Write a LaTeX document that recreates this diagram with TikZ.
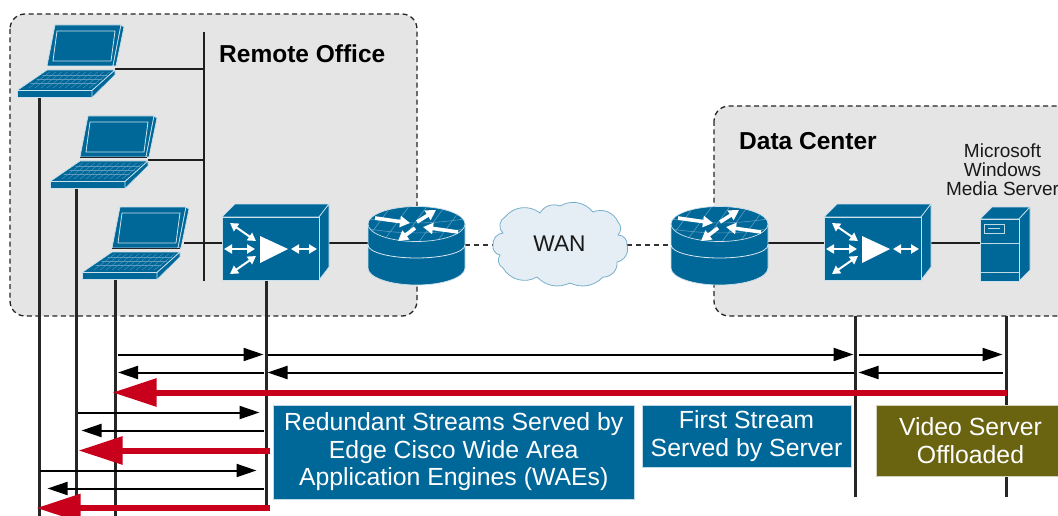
\documentclass[tikz,border=0pt]{standalone}
\usepackage{fontspec}
\setmainfont{Liberation Sans}
\usetikzlibrary{arrows.meta}
\definecolor{ciscoblue}{RGB}{0,103,153}
\definecolor{gridblue}{RGB}{90,155,190}
\definecolor{regiongray}{RGB}{229,229,229}
\definecolor{cloudfill}{RGB}{229,238,244}
\definecolor{cloudline}{RGB}{120,175,205}
\definecolor{olivebox}{RGB}{106,100,16}
\definecolor{redarrow}{RGB}{200,0,28}
\newcommand\lowertext[1]{\raisebox{-1.5pt}{#1}}
\pgfdeclarelayer{regionlayer}
\pgfdeclarelayer{wirelayer}
\pgfsetlayers{regionlayer,wirelayer,main}
\tikzset{
  x=1pt,y=-1pt,
  region/.style={draw=black!85,fill=regiongray,dash pattern=on 5pt off 3.5pt,line width=1.3pt,rounded corners=15pt},
  wire/.style={draw=black!88,line width=2pt},
  drop/.style={draw=black!85,line width=2.3pt},
  dashwire/.style={draw=black!80,line width=2pt,dash pattern=on 5pt off 4pt},
  flow/.style={draw=black,line width=2pt,-{Triangle[length=20pt,width=13pt]}},
  redflow/.style={draw=redarrow,line width=6pt,-{Triangle[length=44pt,width=27pt]}},
  icon/.style={fill=ciscoblue,draw=white!80!ciscoblue,line width=0.7pt,line join=round},
  whitearrow/.style={draw=white,line width=2pt,{Triangle[length=8pt,width=9pt]}-{Triangle[length=8pt,width=9pt]}},
  rarrow/.style={draw=white,line width=3.6pt,-{Triangle[length=10pt,width=11pt]}},
  caption/.style={text=white,font=\fontsize{24.8}{27.5}\selectfont,align=center,inner sep=0pt,draw=white!75!ciscoblue,line width=0.5pt,fill=ciscoblue},
  title/.style={font=\fontsize{24.5}{28}\selectfont\bfseries,inner sep=0pt,anchor=west,text=black},
  laptop/.pic={
    \path[icon] (38,0)--(104,0)--(96,41)--(30,41)--cycle;
    \path[icon] (104,0)--(107,2)--(99,41)--(96,41)--cycle;
    \draw[white!80!ciscoblue,line width=0.8pt] (40,6)--(98,6)--(94,36)--(36,36)--cycle;
    \path[icon] (30,45)--(98,45)--(75,65.5)--(0,65.5)--cycle;
    \path[icon] (0,65.5)--(75,65.5)--(75,72.5)--(0,72.5)--cycle;
    \path[icon] (98,45)--(98,50)--(75,72.5)--(75,65.5)--cycle;
    \begin{scope}
      \clip (31,47)--(95,47)--(73,63)--(7,63)--cycle;
      \foreach \yy in {50,54,58} \draw[gridblue,line width=0.35pt] (0,\yy)--(100,\yy);
      \foreach \xx in {0,6,...,96} \draw[gridblue,line width=0.35pt] (\xx,63)--(\xx+22,46);
    \end{scope}
  },
  wae/.pic={
    \path[icon] (0,13)--(13,0)--(107,0)--(97,13)--cycle;
    \path[icon] (97,13)--(107,0)--(107,63)--(97,76)--cycle;
    \path[icon] (0,13)--(97,13)--(97,76)--(0,76)--cycle;
    \fill[white] (38,32)--(66,45)--(38,59)--cycle;
    \draw[whitearrow] (2,45)--(33,45);
    \draw[whitearrow] (8,19)--(34,37);
    \draw[whitearrow] (8,70)--(34,52);
    \draw[whitearrow] (69,45)--(95,45);
  },
  routerpic/.pic={
    \path[icon] (0,17)--(0,61) arc[start angle=180,end angle=0,x radius=48.5,y radius=17]--(97,17)--cycle;
    \draw[white!85!ciscoblue,line width=0.8pt] (0,38) arc[start angle=180,end angle=0,x radius=48.5,y radius=13];
    \path[icon] (48.5,17) ellipse[x radius=48.5,y radius=17.5];
    \begin{scope}
      \clip (48.5,17) ellipse[x radius=48,y radius=17];
      \foreach \xx in {-40,-22,...,130} \draw[gridblue,line width=0.6pt] (\xx,36)--(\xx+28,-2);
      \draw[gridblue,line width=0.6pt] (0,12) to[bend right=8] (97,12);
      \draw[gridblue,line width=0.6pt] (0,22) to[bend right=8] (97,22);
    \end{scope}
    \draw[rarrow] (7,11)--(42,16);
    \draw[rarrow] (49,15)--(68,3);
    \draw[rarrow] (90,25)--(55,20);
    \draw[rarrow] (47,21)--(30,34);
  },
  serverpic/.pic={
    \path[icon] (0,12)--(12,0)--(50,0)--(39,12)--cycle;
    \path[icon] (39,12)--(50,0)--(50,63)--(39,74)--cycle;
    \path[icon] (0,12)--(39,12)--(39,74)--(0,74)--cycle;
    \draw[white!75!ciscoblue,line width=0.7pt] (4,17) rectangle (24,26);
    \draw[white!75!ciscoblue,line width=0.5pt] (8,21.5)--(20,21.5);
    \draw[white!75!ciscoblue,line width=0.7pt] (0,36)--(39,36) (0,65)--(39,65);
  }
}
\begin{document}
\begin{tikzpicture}
\useasboundingbox (0,0) rectangle (1058,516);
\clip (0,0) rectangle (1058,516);
% regions
\begin{pgfonlayer}{regionlayer}
  \draw[region] (10,14) rectangle (417,316);
  \draw[region] (714,106) rectangle (1075,316);
\end{pgfonlayer}
\node[title] (remote) at (219,53.5) {Remote Office};
\node[title] (dc) at (739,141.5) {Data Center};
\node[inner sep=0pt,align=center,font=\fontsize{19}{19}\selectfont,text=black!90] (wms) at (1002.5,170) {Microsoft\\Windows\\Media Server};
% icons
\pic (lap1) at (17,25) {laptop};
\pic (lap2) at (50,116) {laptop};
\pic (lap3) at (82,207) {laptop};
\draw[black!85,line width=1pt] (80,157.5)--(147,157.5) (112,248.5)--(180,248.5);
\pic (wae1) at (222,204) {wae};
\pic (wae2) at (824,204) {wae};
\pic (rt1) at (368,207) {routerpic};
\pic (rt2) at (671,207) {routerpic};
\pic (srv) at (980,207) {serverpic};
% cloud
\path[fill=cloudfill,draw=cloudline,line width=0.8pt]
  (493,245) to[bend left=45] (503,233) to[bend left=60] (505,217) to[bend left=45] (540,213)
  to[bend left=40] (560,206) to[bend left=40] (593,212) to[bend left=45] (618,222)
  to[bend left=45] (618,235) to[bend left=50] (627,245) to[bend left=50] (617,262)
  to[bend left=50] (603,277) to[bend left=35] (570,283) to[bend left=35] (537,277)
  to[bend left=45] (503,268) to[bend left=50] (500,255) to[bend left=45] (493,245);
\node[inner sep=0pt,font=\fontsize{22.7}{26}\selectfont,text=black!90] (wan) at (559.5,244) {WAN};
% anchor coordinates
\coordinate (bt) at (203.5,32); \coordinate (bb) at (203.5,281);
\coordinate (b1) at (203.5,69); \coordinate (b2) at (203.5,160);
\coordinate (l1r) at (115,69); \coordinate (l2r) at (148,160); \coordinate (l3r) at (184,243);
\coordinate (w1l) at (222,243); \coordinate (w1r) at (329,243);
\coordinate (r1l) at (368,243); \coordinate (r1r) at (465,245);
\coordinate (cl) at (493,245); \coordinate (cr) at (627,245);
\coordinate (r2l) at (671,245); \coordinate (r2r) at (768,243);
\coordinate (w2l) at (824,243); \coordinate (w2r) at (930,243);
\coordinate (sl) at (980,243);
% lifelines
\coordinate (t1) at (39.5,97);  \coordinate (e1) at (39.5,516);
\coordinate (t2) at (76.5,188); \coordinate (e2) at (76.5,516);
\coordinate (t3) at (115.5,279); \coordinate (e3) at (115.5,516);
\coordinate (t4) at (266.5,280); \coordinate (e4) at (266.5,509);
\coordinate (t5) at (855.5,316); \coordinate (e5) at (855.5,497);
\coordinate (t6) at (1006.5,316); \coordinate (e6) at (1006.5,497);
\begin{pgfonlayer}{wirelayer}
  \draw[wire] (bt)--(bb);
  \draw[wire] (l1r)--(b1);
  \draw[wire] (l2r)--(b2);
  \draw[wire] (l3r)--(w1l);
  \draw[wire] (w1r)--(r1l);
  \draw[dashwire] (r1r)--(cl);
  \draw[dashwire] (cr)--(r2l);
  \draw[wire] (r2r)--(w2l);
  \draw[wire] (w2r)--(sl);
  \draw[drop] (t1)--(e1);
  \draw[drop] (t2)--(e2);
  \draw[drop] (t3)--(e3);
  \draw[drop] (t4)--(e4);
  \draw[drop] (t5)--(e5);
  \draw[drop] (t6)--(e6);
\end{pgfonlayer}
% flows
\coordinate (y1) at (0,354.5); \coordinate (y2) at (0,372.5); \coordinate (y3) at (0,392.5);
\coordinate (y4) at (0,412.5); \coordinate (y5) at (0,430.5); \coordinate (y6) at (0,450.5);
\coordinate (y7) at (0,470.5); \coordinate (y8) at (0,488.5); \coordinate (y9) at (0,508);
\draw[flow] ([xshift=2.5pt]t3 |- y1) -- ([xshift=-3pt]t4 |- y1);
\draw[flow] ([xshift=1pt]t4 |- y1) -- ([xshift=-2pt]t5 |- y1);
\draw[flow] ([xshift=3pt]t5 |- y1) -- ([xshift=-4pt]t6 |- y1);
\draw[flow] ([xshift=-4pt]t6 |- y2) -- ([xshift=3pt]t5 |- y2);
\draw[flow] ([xshift=-2pt]t5 |- y2) -- ([xshift=1pt]t4 |- y2);
\draw[flow] ([xshift=-3pt]t4 |- y2) -- ([xshift=2.5pt]t3 |- y2);
\draw[redflow] (t6 |- y3) -- ([xshift=-3pt]t3 |- y3);
\draw[flow] ([xshift=1pt]t2 |- y4) -- ([xshift=-7pt]t4 |- y4);
\draw[flow] ([xshift=-3pt]t4 |- y5) -- ([xshift=5pt]t2 |- y5);
\draw[redflow] ([xshift=3pt]t4 |- y6) -- ([xshift=2pt]t2 |- y6);
\draw[flow] (t1 |- y7) -- ([xshift=-10pt]t4 |- y7);
\draw[flow] ([xshift=-3pt]t4 |- y8) -- ([xshift=8pt]t1 |- y8);
\draw[redflow] ([xshift=3pt]t4 |- y9) -- ([xshift=-3pt]t1 |- y9);
% captions
\node[caption,minimum width=360.5pt,minimum height=94pt] (cap1) at (453.7,452) {\lowertext{Redundant Streams Served by}\\\lowertext{Edge Cisco Wide Area}\\\lowertext{Application Engines (WAEs)}};
\node[caption,minimum width=209pt,minimum height=62pt] (cap2) at (746.5,436) {\lowertext{First Stream}\\\lowertext{Served by Server}};
\node[caption,minimum width=200pt,minimum height=71pt,fill=olivebox,draw=white!70!olivebox] (cap3) at (976.5,440.5) {\hspace*{-12pt}Video Server\\\hspace*{-12pt}Offloaded};
\end{tikzpicture}
\end{document}
